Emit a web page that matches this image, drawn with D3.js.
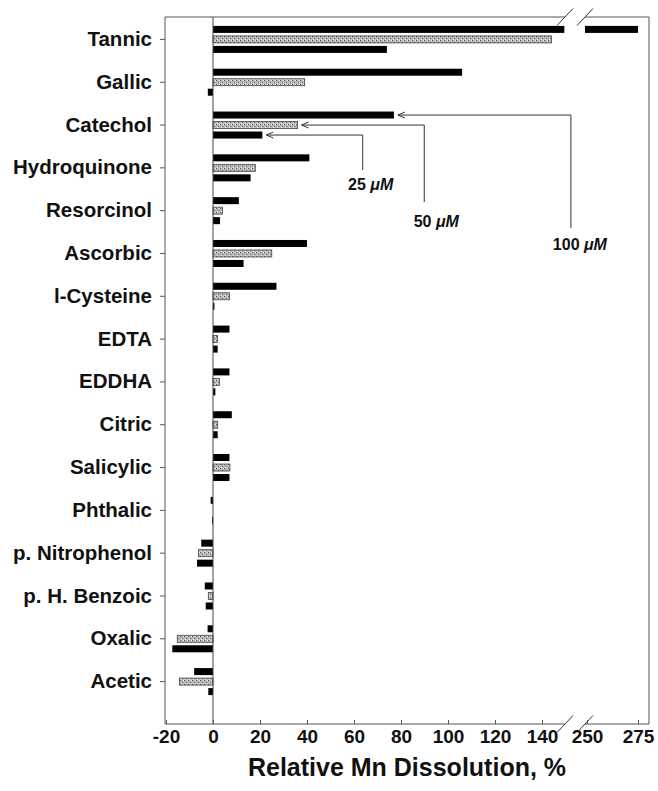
<!DOCTYPE html>
<html>
<head>
<meta charset="utf-8">
<script src="https://d3js.org/d3.v7.min.js"></script>
<style>
  body { margin: 0; background: #fff; }
  text { font-family: "Liberation Sans", Arial, sans-serif; font-weight: bold; fill: #111; }
</style>
</head>
<body>
<div id="chart"></div>
<script>
// compounds, top to bottom
var categories = ["Tannic", "Gallic", "Catechol", "Hydroquinone", "Resorcinol", "Ascorbic", "l-Cysteine",
    "EDTA", "EDDHA", "Citric", "Salicylic", "Phthalic", "p. Nitrophenol", "p. H. Benzoic", "Oxalic", "Acetic"];
// relative Mn dissolution (%) at each concentration
var mn100 = [275, 106, 77, 41, 11, 40, 27, 7, 7, 8, 7, -1, -5, -3.5, -2.3, -8];
var mn50  = [144, 39, 36, 18, 4, 25, 7, 1.9, 2.7, 2, 7.2, 0, -6.2, -2, -15.2, -14.3];
var mn25  = [74, -2.2, 21, 16, 3, 13, 0.6, 2, 1, 2, 7, -0.4, -6.8, -3.1, -17.3, -2];
var seriesNames = ["100", "50", "25"];
var lowTicks = [-20, 0, 20, 40, 60, 80, 100, 120, 140];
var highTicks = [250, 275];
// axis break: low part stops here, high part resumes here
var breakLow = 149.5, breakHigh = 249;

function DissolutionChart(){
    var self = this;
    self.init();
};

DissolutionChart.prototype.init = function(){
    var self = this;
    self.width = 658;
    self.height = 791;
    self.frame = {left: 165, right: 649, top: 17, bottom: 724};

    self.svg = d3.select("#chart").append("svg")
        .attr("width", self.width)
        .attr("height", self.height);

    self.svg.append("rect")
        .attr("width", self.width)
        .attr("height", self.height)
        .attr("fill", "#fff");

    //speckled gray fill used by the 50 uM bars
    var pat = self.svg.append("defs").append("pattern")
        .attr("id", "speckle")
        .attr("width", 4).attr("height", 4)
        .attr("patternUnits", "userSpaceOnUse");
    pat.append("rect").attr("width", 4).attr("height", 4).attr("fill", "#b8b8b8");
    pat.append("rect").attr("x", 0).attr("y", 0).attr("width", 1).attr("height", 1).attr("fill", "#505050");
    pat.append("rect").attr("x", 2).attr("y", 2).attr("width", 1).attr("height", 1).attr("fill", "#707070");
    pat.append("rect").attr("x", 3).attr("y", 0).attr("width", 1).attr("height", 1).attr("fill", "#eeeeee");
    pat.append("rect").attr("x", 1).attr("y", 3).attr("width", 1).attr("height", 1).attr("fill", "#f4f4f4");
};

DissolutionChart.prototype.update = function(){
    var self = this;
    var f = self.frame;

    self.xLow = d3.scaleLinear().domain([-20, 140]).range([166, 542]);
    self.xHigh = d3.scaleLinear().domain([250, 275]).range([587, 638]);
    self.y = d3.scaleBand().domain(categories).range([18, 703]);
    var inner = d3.scaleBand().domain(seriesNames).range([-13.5, 13.5]).paddingInner(0.3);

    var values = {"100": mn100, "50": mn50, "25": mn25};
    var rows = [];
    categories.forEach(function(c, i){
        seriesNames.forEach(function(s){
            rows.push({cat: c, s: s, v: values[s][i]});
        });
    });
    //split bars that run past the break into two pieces
    var segs = [];
    rows.forEach(function(d){
        if (d.v > breakLow) {
            segs.push({cat: d.cat, s: d.s, x0: self.xLow(0), x1: self.xLow(breakLow)});
            segs.push({cat: d.cat, s: d.s, x0: self.xHigh(breakHigh), x1: self.xHigh(d.v)});
        } else {
            segs.push({cat: d.cat, s: d.s, x0: self.xLow(Math.min(0, d.v)), x1: self.xLow(Math.max(0, d.v))});
        }
    });

    var yc = function(c){ return self.y(c) + self.y.bandwidth() / 2; };

    self.svg.selectAll(".bar")
        .data(segs)
        .enter()
        .append("rect")
        .attr("class", "bar")
        .attr("x", d => d.x0)
        .attr("y", d => yc(d.cat) + inner(d.s))
        .attr("width", d => Math.max(0, d.x1 - d.x0))
        .attr("height", inner.bandwidth())
        .attr("fill", d => d.s == "50" ? "url(#speckle)" : "#000")
        .attr("stroke", d => d.s == "50" ? "#444" : "none")
        .attr("stroke-width", 0.8);

    //zero line
    self.svg.append("line")
        .attr("x1", self.xLow(0)).attr("x2", self.xLow(0))
        .attr("y1", f.top).attr("y2", f.bottom)
        .attr("stroke", "#444").attr("stroke-width", 1);

    //frame with gaps at the break
    var gapA = 565, gapB = 585;
    var frameLines = [
        [f.left, f.top, f.left, f.bottom],
        [f.right, f.top, f.right, f.bottom],
        [f.left, f.top, gapA, f.top], [gapB, f.top, f.right, f.top],
        [f.left, f.bottom, gapA, f.bottom], [gapB, f.bottom, f.right, f.bottom]
    ];
    self.svg.selectAll(".frame")
        .data(frameLines)
        .enter()
        .append("line")
        .attr("class", "frame")
        .attr("x1", d => d[0]).attr("y1", d => d[1])
        .attr("x2", d => d[2]).attr("y2", d => d[3])
        .attr("stroke", "#555").attr("stroke-width", 1);

    //break slashes
    var slashes = [[gapA, f.top], [gapB, f.top], [gapA, f.bottom], [gapB, f.bottom]];
    self.svg.selectAll(".slash")
        .data(slashes)
        .enter()
        .append("line")
        .attr("class", "slash")
        .attr("x1", d => d[0] - 8).attr("y1", d => d[1] + 8.5)
        .attr("x2", d => d[0] + 8).attr("y2", d => d[1] - 8.5)
        .attr("stroke", "#333").attr("stroke-width", 1);

    //category axis
    var yAxis = self.svg.append("g")
        .attr("transform", "translate(" + f.left + ",0)")
        .call(d3.axisLeft(self.y).tickSizeInner(5).tickSizeOuter(0).tickPadding(8));
    yAxis.select(".domain").remove();
    yAxis.selectAll("line").attr("stroke", "#555");
    yAxis.selectAll("text")
        .attr("font-size", 20.5)
        .attr("font-family", "'Liberation Sans', Arial, sans-serif")
        .attr("font-weight", "bold")
        .attr("fill", "#111");

    //value axis, two pieces
    [[self.xLow, lowTicks], [self.xHigh, highTicks]].forEach(function(p){
        var g = self.svg.append("g")
            .attr("transform", "translate(0," + f.bottom + ")")
            .call(d3.axisBottom(p[0]).tickValues(p[1]).tickFormat(d => String(d))
                .tickSizeInner(-4).tickSizeOuter(0).tickPadding(6));
        g.select(".domain").remove();
        g.selectAll("line").attr("stroke", "#555");
        g.selectAll("text")
            .attr("font-size", 19)
            .attr("font-family", "'Liberation Sans', Arial, sans-serif")
            .attr("font-weight", "bold")
            .attr("fill", "#111");
    });

    self.svg.append("text")
        .attr("x", 407)
        .attr("y", 776)
        .attr("text-anchor", "middle")
        .attr("font-size", 25)
        .text("Relative Mn Dissolution, %");

    //arrows pointing at the Catechol bars
    var notes = [
        {s: "100", elbow: 152.3, drop: 228, dx: 9, ly: 250},
        {s: "50", elbow: 89.9, drop: 202, dx: 12, ly: 227},
        {s: "25", elbow: 63.7, drop: 170, dx: 8, ly: 190}
    ];
    var ci = categories.indexOf("Catechol");
    notes.forEach(function(n){
        var v = values[n.s][ci];
        var yy = yc("Catechol") + inner(n.s) + inner.bandwidth() / 2;
        var tip = self.xLow(v) + 4;
        var ex = self.xLow(n.elbow);
        self.svg.append("path")
            .attr("d", "M" + tip + "," + yy + "H" + ex + "V" + n.drop)
            .attr("fill", "none").attr("stroke", "#333").attr("stroke-width", 1);
        self.svg.append("path")
            .attr("d", "M" + (tip + 7) + "," + (yy - 3) + "L" + tip + "," + yy + "L" + (tip + 7) + "," + (yy + 3))
            .attr("fill", "none").attr("stroke", "#333").attr("stroke-width", 1);
        var t = self.svg.append("text")
            .attr("x", ex + n.dx)
            .attr("y", n.ly)
            .attr("text-anchor", "middle")
            .attr("font-size", 16);
        t.append("tspan").text(n.s + " ");
        t.append("tspan").attr("font-style", "italic").text("\u03bcM");
    });
};

var chart = new DissolutionChart();
chart.update();
</script>
</body>
</html>
